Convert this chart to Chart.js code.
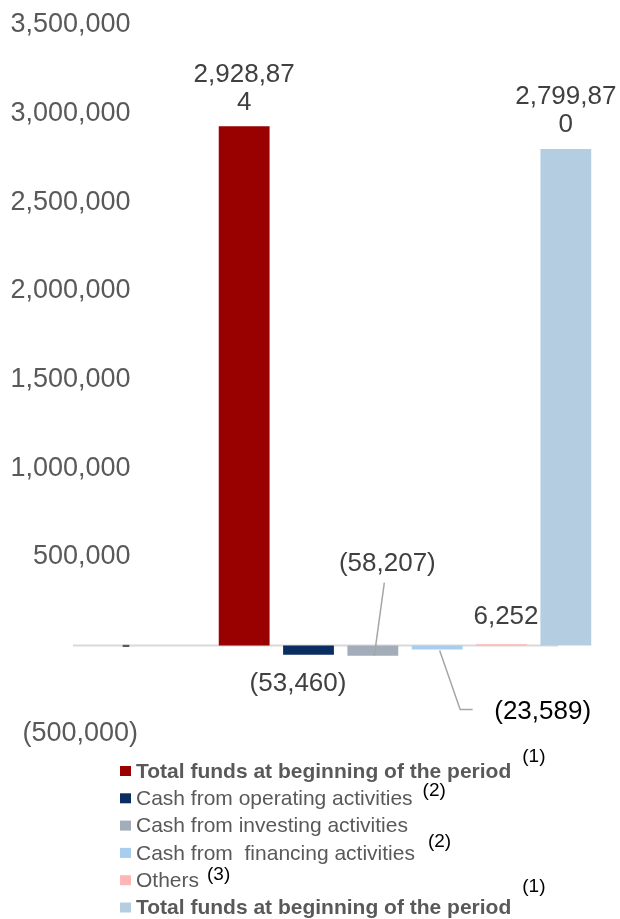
<!DOCTYPE html>
<html>
<head>
<meta charset="utf-8">
<script src="https://cdn.jsdelivr.net/npm/chart.js@4.4.1/dist/chart.umd.min.js"></script>
<style>
  body { margin: 0; background: #fff; }
  canvas { display: block; }
</style>
</head>
<body>
<canvas id="cashChart" width="620" height="919"></canvas>
<script>
// Data
const categories = ['Funds'];
const seriesNames = [
    'Total funds at beginning of the period',
    'Cash from operating activities',
    'Cash from investing activities',
    'Cash from  financing activities',
    'Others',
    'Total funds at beginning of the period'
];
const seriesValues = [2928874, -53460, -58207, -23589, 6252, 2799870];
const seriesColors = ['#990000', '#0a2d62', '#a3acb9', '#a9cdee', '#ffb6b6', '#b5cde1'];
const footnotes = ['(1)', '(2)', '', '(2)', '(3)', '(1)'];
const yTicks = [-500000, 0, 500000, 1000000, 1500000, 2000000, 2500000, 3000000, 3500000];

const FONT = '"Liberation Sans", Arial, sans-serif';

function fmt(v) {
    if (v === 0) return '-';
    const s = Math.abs(v).toLocaleString('en-US');
    return v < 0 ? '(' + s + ')' : s;
}

// label placement per series (relative to bar end)
const labelPlace = [
    { dx: 0, dy: -23, wrap: 105, color: '#404040' },
    { dx: -10.5, dy: 28.5, color: '#404040' },
    { dx: 14.5, dy: -92, color: '#404040', leader: 'up' },
    { dx: 105.5, dy: 62, color: '#000000', leader: 'elbow' },
    { dx: 4.5, dy: -27, color: '#404040' },
    { dx: 0, dy: -24, wrap: 105, color: '#404040' }
];
const footOffsets = [[11, -14], [10, -8], [0, 0], [13, -11], [8, -5], [11, -21]];

function wrapChars(ctx, text, maxW) {
    const lines = [];
    let cur = '';
    for (const ch of text) {
        if (ctx.measureText(cur + ch).width > maxW && cur) {
            lines.push(cur);
            cur = ch;
        } else {
            cur += ch;
        }
    }
    lines.push(cur);
    return lines;
}

// zero line drawn under the axis labels
const zeroLine = {
    id: 'zeroLine',
    beforeDraw(chart) {
        const ctx = chart.ctx;
        const y = chart.scales.y.getPixelForValue(0);
        ctx.save();
        ctx.strokeStyle = '#d9d9d9';
        ctx.lineWidth = 2;
        ctx.beginPath();
        ctx.moveTo(73, y);
        ctx.lineTo(chart.chartArea.right - 40, y);
        ctx.stroke();
        ctx.restore();
    }
};

const barLabels = {
    id: 'barLabels',
    afterDatasetsDraw(chart) {
        const ctx = chart.ctx;
        ctx.save();
        ctx.font = '26px ' + FONT;
        ctx.textAlign = 'center';
        ctx.textBaseline = 'middle';
        chart.data.datasets.forEach((ds, i) => {
            const bar = chart.getDatasetMeta(i).data[0];
            const p = labelPlace[i];
            const cx = bar.x + p.dx;
            const cy = bar.y + p.dy;
            const text = fmt(ds.data[0]);
            ctx.strokeStyle = '#a6a6a6';
            ctx.lineWidth = 1.5;
            if (p.leader === 'up') {
                ctx.beginPath();
                ctx.moveTo(cx - 3, cy + 19);
                ctx.lineTo(bar.x + 1.5, bar.y);
                ctx.stroke();
            } else if (p.leader === 'elbow') {
                ctx.beginPath();
                ctx.moveTo(bar.x + 2.5, bar.y + 1);
                ctx.lineTo(cx - 82.5, cy - 2);
                ctx.lineTo(cx - 70, cy - 2);
                ctx.stroke();
            }
            ctx.fillStyle = p.color;
            if (p.wrap) {
                const lines = wrapChars(ctx, text, p.wrap);
                lines.forEach((ln, k) => {
                    ctx.fillText(ln, cx, cy - (lines.length - 1 - k) * 28);
                });
            } else {
                ctx.fillText(text, cx, cy);
            }
        });
        ctx.restore();
    }
};

const sideLegend = {
    id: 'sideLegend',
    afterDraw(chart) {
        const ctx = chart.ctx;
        ctx.save();
        ctx.textBaseline = 'middle';
        ctx.textAlign = 'left';
        chart.data.datasets.forEach((ds, i) => {
            const y = 771 + i * 27.3;
            ctx.fillStyle = ds.backgroundColor;
            ctx.fillRect(120, y - 5, 11, 10);
            const bold = (i === 0 || i === seriesNames.length - 1);
            ctx.font = (bold ? 'bold ' : '') + '21px ' + FONT;
            ctx.fillStyle = '#595959';
            ctx.fillText(ds.label, 136, y + 1);
            const w = ctx.measureText(ds.label).width;
            if (footnotes[i]) {
                ctx.font = '19px ' + FONT;
                ctx.fillStyle = '#000000';
                ctx.fillText(footnotes[i], 136 + w + footOffsets[i][0], y + footOffsets[i][1]);
            }
        });
        ctx.restore();
    }
};

new Chart(document.getElementById('cashChart'), {
    type: 'bar',
    data: {
        labels: categories,
        datasets: seriesNames.map((name, i) => ({
            label: name,
            data: [seriesValues[i]],
            backgroundColor: seriesColors[i],
            categoryPercentage: 1,
            barPercentage: 0.79
        }))
    },
    options: {
        responsive: false,
        animation: false,
        layout: { padding: { top: 25, right: 22, bottom: 185, left: 0 } },
        plugins: {
            legend: { display: false },
            tooltip: { enabled: false }
        },
        scales: {
            x: { display: false },
            y: {
                min: -500000,
                max: 3500000,
                afterBuildTicks: (s) => { s.ticks = yTicks.map(v => ({ value: v })); },
                afterFit: (s) => {
                    s.width = 212;
                    s.paddingTop = 0;
                    s.paddingBottom = 0;
                },
                grid: { display: false },
                border: { display: false },
                ticks: {
                    padding: 66,
                    color: '#595959',
                    font: { family: FONT, size: 27 },
                    callback: (v) => v < 0 ? fmt(v) : fmt(v) + ' '
                }
            }
        }
    },
    plugins: [zeroLine, barLabels, sideLegend]
});
</script>
</body>
</html>
